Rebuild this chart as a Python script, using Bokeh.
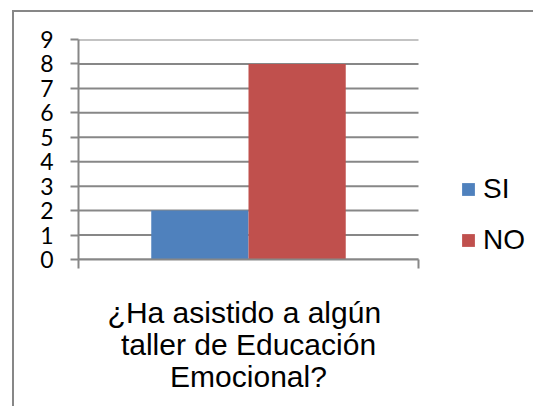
from bokeh.plotting import figure
from bokeh.models import (Range1d, LinearAxis, FixedTicker, Legend, ColumnDataSource)
from bokeh.transform import dodge
from bokeh.embed import file_html
from bokeh.resources import INLINE

# ---- data ----
categories = ["¿Ha asistido  a algún\ntaller de Educación\nEmocional?"]
series_names = ["SI", "NO"]
si_values = [2]
no_values = [8]
y_ticks = [0, 1, 2, 3, 4, 5, 6, 7, 8, 9]

colors = {"SI": "#4F81BD", "NO": "#C0504D"}
grey = "#878787"

n = len(categories)
centers = [i + 0.5 for i in range(n)]
bounds = [float(i) for i in range(n + 1)]

# layout: plot frame spans to the right edge so the legend (drawn inside the
# frame) is not clipped; the category region occupies the left 340 px of it.
W, H = 521, 396
LEFT, TOP, BOTTOM = 64, 27, 149
CAT_PX = 340
x_end = n * (W - LEFT) / CAT_PX

source = ColumnDataSource(dict(xc=centers, cat=categories, SI=si_values, NO=no_values))
grid_src = ColumnDataSource(dict(y=y_ticks, x0=[bounds[0]] * len(y_ticks),
                                 x1=[bounds[-1]] * len(y_ticks)))

p = figure(
    x_range=Range1d(0, x_end),
    y_range=Range1d(0, 9),
    width=W, height=H,
    output_backend="svg", toolbar_location=None,
    x_axis_location=None,
    min_border_left=LEFT, min_border_right=0,
    min_border_top=TOP, min_border_bottom=BOTTOM,
    outline_line_color=None,
    background_fill_color="white", border_fill_color="white",
)
p.styles = {"border-left": "2px solid " + grey, "border-top": "2px solid " + grey,
            "margin-left": "12px", "margin-top": "10px"}

p.xgrid.grid_line_color = None
p.ygrid.grid_line_color = None

# horizontal gridlines over the category region only
p.segment(x0="x0", x1="x1", y0="y", y1="y", source=grid_src,
          line_color=grey, line_width=2)

# bars
r_si = p.vbar(x=dodge("xc", -0.143), top="SI", width=0.286,
              source=source, fill_color=colors["SI"], line_color=None)
r_no = p.vbar(x=dodge("xc", 0.143), top="NO", width=0.286,
              source=source, fill_color=colors["NO"], line_color=None)

# y axis
yax = p.yaxis[0]
yax.ticker = FixedTicker(ticks=y_ticks)
yax.axis_line_color = grey
yax.axis_line_width = 2
yax.major_tick_line_color = grey
yax.major_tick_line_width = 2
yax.major_tick_out = 8
yax.major_tick_in = 0
yax.minor_tick_line_color = None
yax.major_label_text_font = "Lato"
yax.major_label_text_font_size = "23px"
yax.major_label_text_color = "black"
yax.major_label_standoff = 17

# x axis: tick marks at category boundaries
xtick_ax = LinearAxis(ticker=FixedTicker(ticks=bounds), bounds=(bounds[0], bounds[-1]))
xtick_ax.axis_line_color = grey
xtick_ax.axis_line_width = 2
xtick_ax.major_tick_line_color = grey
xtick_ax.major_tick_line_width = 2
xtick_ax.major_tick_out = 9
xtick_ax.major_tick_in = 0
xtick_ax.minor_tick_line_color = None
xtick_ax.major_label_text_color = None
xtick_ax.major_label_text_font_size = "1px"
xtick_ax.major_label_standoff = 0
p.add_layout(xtick_ax, "below")

# x axis: category label
xcat_ax = LinearAxis(ticker=FixedTicker(ticks=centers),
                     major_label_overrides={c: t for c, t in zip(centers, categories)})
xcat_ax.axis_line_color = None
xcat_ax.major_tick_line_color = None
xcat_ax.minor_tick_line_color = None
xcat_ax.major_label_text_font = "Liberation Sans"
xcat_ax.major_label_text_font_size = "30px"
xcat_ax.major_label_text_color = "black"
xcat_ax.major_label_text_line_height = 0.97
xcat_ax.major_label_standoff = 21
p.add_layout(xcat_ax, "below")

# legend
legend = Legend(items=[(series_names[0], [r_si]), (series_names[1], [r_no])],
                location=(382, 3), orientation="vertical",
                padding=0, margin=0, spacing=19,
                glyph_width=16, glyph_height=16, label_standoff=7,
                label_text_font="Liberation Sans", label_text_font_size="28px",
                label_text_color="black",
                border_line_color=None, background_fill_alpha=0)
p.add_layout(legend)

open("out.html", "w").write(file_html(p, INLINE))
